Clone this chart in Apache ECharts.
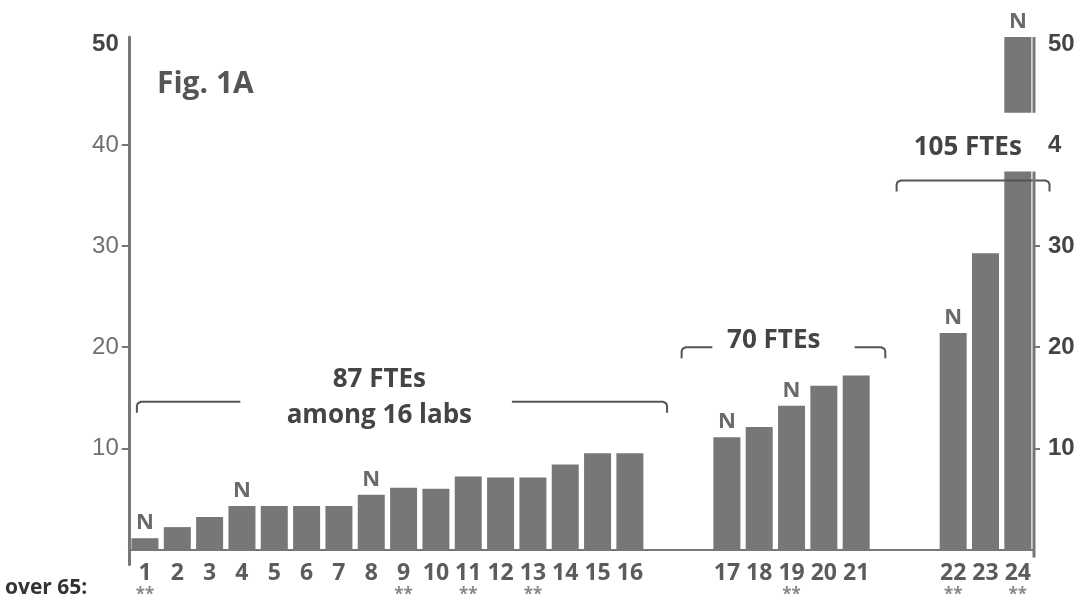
<!DOCTYPE html>
<html>
<head>
<meta charset="utf-8">
<script src="https://cdn.jsdelivr.net/npm/echarts@6/dist/echarts.min.js"></script>
<style>
html, body { margin: 0; padding: 0; background: #fff; }
#chart { width: 1086px; height: 604px; }
</style>
</head>
<body>
<div id="chart"></div>
<script>
// labs, in the three groups shown along the axis
const labGroups = [
    [1, 2, 3, 4, 5, 6, 7, 8, 9, 10, 11, 12, 13, 14, 15, 16],
    [17, 18, 19, 20, 21],
    [22, 23, 24]
];
// FTEs per lab (lab 24 is off the scale and drawn with a break)
const ftes = [1.1, 2.2, 3.2, 4.3, 4.3, 4.3, 4.3, 5.4, 6.1, 6.0, 7.2, 7.1, 7.1, 8.4, 9.5, 9.5,
              11.1, 12.1, 14.2, 16.2, 17.2,
              21.4, 29.3, 55];
const newLabs = [1, 4, 8, 17, 19, 22, 24];   // marked "N"
const over65 = [1, 9, 11, 13, 19, 22, 24];   // marked "**"
const groupLabels = [['87 FTEs', 'among 16 labs'], ['70 FTEs'], ['105 FTEs']];
const leftTicks = [10, 20, 30, 40, 50];
const rightTicks = [10, 20, 30, 40, 50];
const rightTickLabels = ['10', '20', '30', '4', '50'];

// where the broken bar is cut (axis values)
const cut = { low: 37.4, high: 43.2, top: 50.7 };

// build category slots, two empty slots between groups
const slots = [];
const slotLab = [];
labGroups.forEach((g, gi) => {
    if (gi > 0) {
        slots.push('gap' + gi + 'a', 'gap' + gi + 'b');
        slotLab.push(null, null);
    }
    g.forEach(l => { slots.push(String(l)); slotLab.push(l); });
});

const valueOf = l => ftes[l - 1];

const lowerData = slotLab.map(l => l == null ? '-' : Math.min(valueOf(l), cut.low));
const gapData = slotLab.map(l => (l != null && valueOf(l) > cut.low) ? cut.high - cut.low : '-');
const topData = slotLab.map(l => (l != null && valueOf(l) > cut.low) ? cut.top - cut.high : '-');

const barColor = '#777';
const textFont = '"Open Sans", sans-serif';
const numFont = '"Liberation Sans", Arial, sans-serif';

const nLabel = {
    show: true,
    position: 'top',
    distance: 4,
    fontFamily: textFont,
    fontSize: 22,
    fontWeight: 'bold',
    color: '#6a6a6a'
};

var myChart = echarts.init(document.getElementById('chart'));

const option = {
    backgroundColor: '#fff',
    animation: false,
    title: {
        text: 'Fig. 1A',
        left: 152,
        top: 64,
        textStyle: { fontFamily: textFont, fontSize: 30, fontWeight: 'bold', color: '#555' }
    },
    grid: { left: 128.8, right: 52, top: 37, bottom: 38 },
    xAxis: {
        type: 'category',
        data: slots,
        axisLine: { onZero: true, lineStyle: { color: '#777', width: 2 } },
        axisTick: { show: false },
        axisLabel: {
            interval: 0,
            margin: -3,
            formatter: function (v) {
                const l = Number(v);
                if (!l) return '';
                return '{n|' + l + '}' + (over65.includes(l) ? '\n{s|**}' : '');
            },
            rich: {
                n: { fontFamily: textFont, fontSize: 23, fontWeight: 'bold', color: '#5c5c5c', lineHeight: 24 },
                s: { fontFamily: textFont, fontSize: 17, fontWeight: 'bold', color: '#888', lineHeight: 20 }
            }
        }
    },
    yAxis: [
        {
            type: 'value',
            min: -1.5,
            max: cut.top,
            splitLine: { show: false },
            axisLine: { show: true, lineStyle: { color: '#777', width: 3 } },
            axisTick: { show: true, customValues: [10, 20, 30, 40], length: 7, lineStyle: { color: '#777', width: 2 } },
            axisLabel: {
                customValues: leftTicks,
                margin: 10,
                formatter: v => v === 50 ? '{b|50}' : '{r|' + v + '}',
                rich: {
                    b: { fontFamily: numFont, fontSize: 24, fontWeight: 'bold', color: '#444' },
                    r: { fontFamily: numFont, fontSize: 24, color: '#707070' }
                }
            }
        },
        {
            type: 'value',
            position: 'right',
            min: -1.5,
            max: cut.top,
            splitLine: { show: false },
            axisLine: { show: false },
            axisTick: { show: true, customValues: [10, 20, 30], length: 6, lineStyle: { color: '#777', width: 2 } },
            axisLabel: {
                customValues: rightTicks,
                margin: 14,
                formatter: v => '{r|' + rightTickLabels[rightTicks.indexOf(v)] + '}',
                rich: {
                    r: { fontFamily: numFont, fontSize: 24, fontWeight: 'bold', color: '#444' }
                }
            }
        }
    ],
    series: [
        {
            name: 'FTEs',
            type: 'bar',
            stack: 'fte',
            barWidth: 27,
            itemStyle: { color: barColor },
            label: Object.assign({}, nLabel, {
                formatter: p => {
                    const l = slotLab[p.dataIndex];
                    return (l != null && newLabs.includes(l) && valueOf(l) <= cut.low) ? 'N' : '';
                }
            }),
            data: lowerData
        },
        {
            name: 'break',
            type: 'bar',
            stack: 'fte',
            barWidth: 27,
            itemStyle: { color: 'rgba(0,0,0,0)' },
            data: gapData
        },
        {
            name: 'FTEs (off scale)',
            type: 'bar',
            stack: 'fte',
            barWidth: 27,
            itemStyle: { color: barColor },
            label: Object.assign({}, nLabel, {
                formatter: p => newLabs.includes(slotLab[p.dataIndex]) ? 'N' : ''
            }),
            data: topData
        }
    ]
};

option && myChart.setOption(option);

// brackets over the groups and the broken right axis, placed through the chart's own scales
function addOverlay() {
    const x0 = myChart.convertToPixel({ xAxisIndex: 0 }, 0);
    const step = myChart.convertToPixel({ xAxisIndex: 0 }, 1) - x0;
    const sx = s => x0 + s * step;
    const py = v => myChart.convertToPixel({ yAxisIndex: 0 }, v);

    // bracket layout in slot units / axis values
    const brackets = [
        { from: -0.25, to: 16.15, y: 14.6, gap: [2.95, 11.35], textAt: 7.25, textY: [16.8, 13.2] },
        { from: 16.6, to: 22.9, y: 20.0, gap: [17.55, 21.95], textAt: 19.45, textY: [20.7] },
        { from: 23.25, to: 27.98, y: 36.5, gap: null, textAt: 25.45, textY: [39.8] }
    ];

    const g = [];
    const line = pts => g.push({
        type: 'polyline',
        shape: { points: pts },
        style: { fill: null, stroke: '#555', lineWidth: 2 },
        z: 10
    });
    brackets.forEach((b, i) => {
        const a = sx(b.from), z = sx(b.to), y = py(b.y);
        const h = 11;
        const left = [[a, y + h], [a, y + 4], [a + 1, y + 1.5], [a + 4, y]];
        const right = [[z - 4, y], [z - 1, y + 1.5], [z, y + 4], [z, y + h]];
        if (b.gap) {
            line(left.concat([[sx(b.gap[0]), y]]));
            line([[sx(b.gap[1]), y]].concat(right));
        } else {
            line(left.concat(right));
        }
        groupLabels[i].forEach((t, k) => {
            g.push({
                type: 'text',
                x: sx(b.textAt),
                y: py(b.textY[k]),
                style: {
                    text: t,
                    fontFamily: textFont,
                    fontSize: 26,
                    fontWeight: 'bold',
                    fill: '#444',
                    align: 'center',
                    verticalAlign: 'middle'
                },
                z: 10
            });
        });
    });

    // right axis line, broken like the last bar
    const rx = sx(slots.length - 0.5);
    [[-0.8, cut.low], [cut.high, cut.top]].forEach(seg => {
        g.push({
            type: 'line',
            shape: { x1: rx, y1: py(seg[0]), x2: rx, y2: py(seg[1]) },
            style: { stroke: '#777', lineWidth: 3 },
            z: 10
        });
    });

    g.push({
        type: 'text',
        x: 5,
        y: 588,
        style: {
            text: 'over 65:',
            fontFamily: textFont,
            fontSize: 21,
            fontWeight: 'bold',
            fill: '#333',
            verticalAlign: 'middle'
        }
    });

    myChart.setOption({ graphic: g });
}
addOverlay();

window.addEventListener("resize", function () {
    myChart.resize();
    addOverlay();
});
</script>
</body>
</html>
